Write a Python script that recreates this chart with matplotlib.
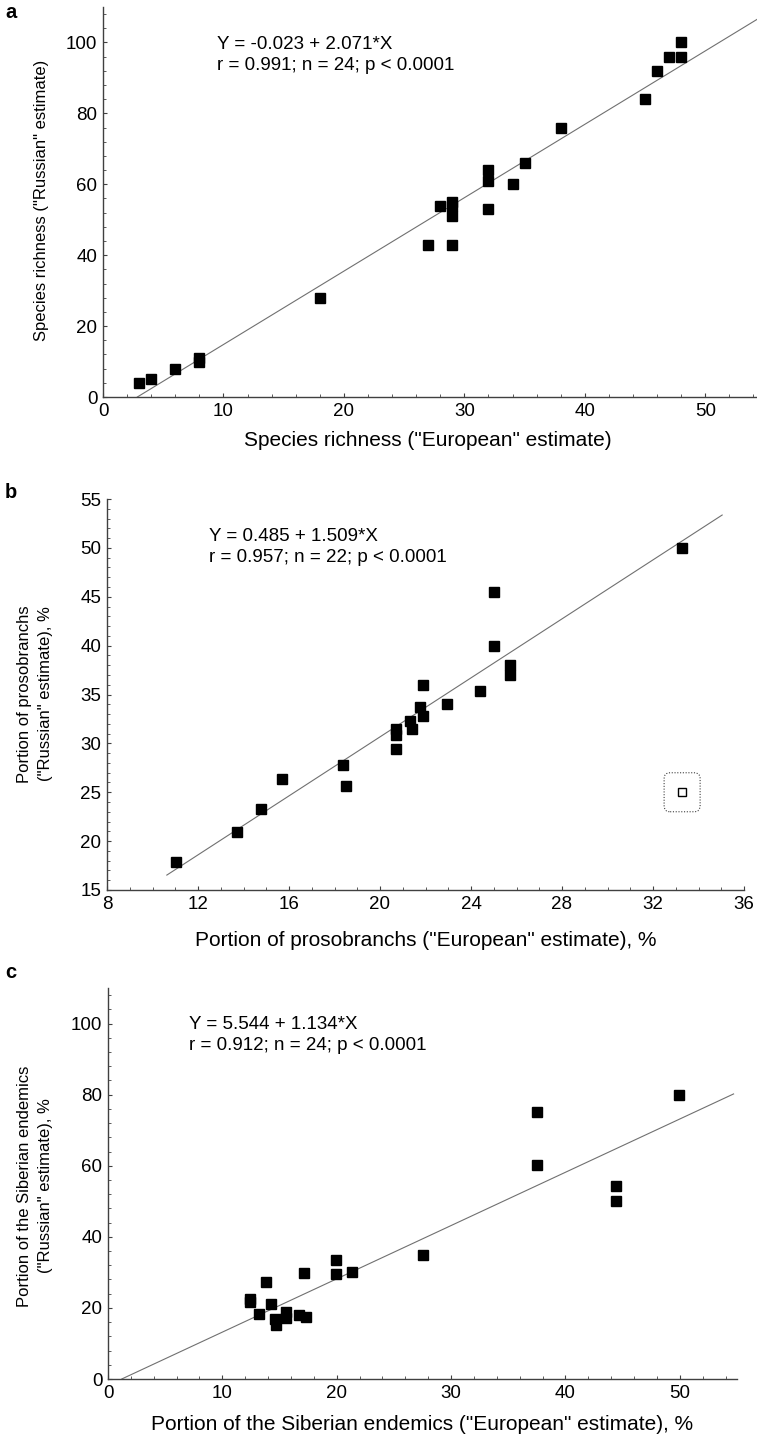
import numpy as np
import matplotlib
matplotlib.use("Agg")
import matplotlib.pyplot as plt
from matplotlib.ticker import MultipleLocator
from matplotlib.patches import FancyBboxPatch
from matplotlib.transforms import ScaledTranslation

plt.rcParams['font.family'] = ['Liberation Sans', 'DejaVu Sans']

# ── Panel a: species richness ────────────────────────────────────────────────
a_x = [3, 4, 6, 8, 8, 18, 27, 28, 29, 29, 29, 29, 32, 32, 32, 34, 35, 38, 45, 46, 47, 48, 48]
a_y = [4, 5, 8, 11, 10, 28, 43, 54, 55, 54, 51, 43, 64, 61, 53, 60, 66, 76, 84, 92, 96, 100, 96]
a_line = (-5.9, 2.07)          # drawn regression line (intercept, slope)
a_line_x = [2.85, 54.5]
a_text = "Y = -0.023 + 2.071*X\nr = 0.991; n = 24; p < 0.0001"

# ── Panel b: portion of prosobranchs ────────────────────────────────────────
b_x = [11.05, 13.73, 14.79, 15.69, 18.38, 18.49, 20.69, 20.69, 20.69, 21.3, 21.39,
       21.78, 21.89, 21.89, 22.96, 24.4, 25.0, 25.0, 25.7, 25.7, 33.28]
b_y = [17.9, 20.9, 23.3, 26.4, 27.8, 25.6, 31.5, 30.9, 29.4, 32.3, 31.5,
       33.7, 32.8, 36.0, 34.0, 35.4, 45.5, 40.0, 38.0, 37.0, 50.0]
b_out_x, b_out_y = 33.28, 25.0
b_line = (0.485, 1.509)
b_line_x = [10.63, 35.04]
b_text = "Y = 0.485 + 1.509*X\nr = 0.957; n = 22; p < 0.0001"

# ── Panel c: portion of the Siberian endemics ───────────────────────────────
c_x = [12.46, 12.46, 13.16, 13.79, 14.26, 14.56, 14.67, 15.55, 15.55, 16.69, 17.32,
       17.13, 19.96, 19.96, 21.36, 27.57, 37.5, 37.5, 44.4, 44.4, 49.96]
c_y = [21.7, 22.4, 18.4, 27.3, 21.2, 17.0, 15.1, 18.9, 17.3, 17.9, 17.5,
       29.7, 33.4, 29.6, 30.1, 34.9, 75.0, 60.1, 54.4, 50.0, 80.0]
c_line = (-1.8, 1.499)
c_line_x = [1.21, 54.7]
c_text = "Y = 5.544 + 1.134*X\nr = 0.912; n = 24; p < 0.0001"

W, H = 757, 1444
fig = plt.figure(figsize=(W / 100, H / 100), dpi=100)

TICK_FS = 13.5
TEXT_FS = 13.5
LABEL_FS = 15.0
YLABEL_FS = 12.0


def px_axes(l, t, r, b):
    return fig.add_axes([l / W, 1 - b / H, (r - l) / W, (b - t) / H])


def style(ax):
    for s in ("top", "right"):
        ax.spines[s].set_visible(False)
    for s in ("left", "bottom"):
        ax.spines[s].set_color("#404040")
        ax.spines[s].set_linewidth(1.0)
    ax.tick_params(which="major", direction="in", length=3, width=0.8,
                   color="#404040", labelsize=TICK_FS, pad=4)
    ax.tick_params(which="minor", direction="in", length=2, width=0.6,
                   color="#404040")


def panel(ax, xs, ys, line, line_x, txt, txt_xy):
    lx = np.array(line_x)
    ax.plot(lx, line[0] + line[1] * lx, color="#707070", lw=0.8, zorder=1)
    ax.plot(xs, ys, "s", color="black", ms=7.8, zorder=3)
    fig.text(txt_xy[0] / W, 1 - txt_xy[1] / H, txt, fontsize=TEXT_FS,
             ha="left", va="center", linespacing=1.25)


# a
ax_a = px_axes(103, 7, 757, 397)
style(ax_a)
panel(ax_a, a_x, a_y, a_line, a_line_x, a_text, (217, 55))
ax_a.set_xlim(0, 54.3)
ax_a.set_ylim(0, 110)
ax_a.xaxis.set_major_locator(MultipleLocator(10))
ax_a.xaxis.set_minor_locator(MultipleLocator(2))
ax_a.yaxis.set_major_locator(MultipleLocator(20))
ax_a.yaxis.set_minor_locator(MultipleLocator(4))

# b
ax_b = px_axes(107, 499, 744, 890)
style(ax_b)
panel(ax_b, b_x, b_y, b_line, b_line_x, b_text, (209, 547))
ax_b.plot([b_out_x], [b_out_y], "s", mfc="white", mec="black", mew=1.0, ms=6, zorder=3)
box_tr = fig.dpi_scale_trans + ScaledTranslation(b_out_x, b_out_y, ax_b.transData)
ax_b.add_patch(FancyBboxPatch((-0.18, -0.195), 0.36, 0.39,
                              boxstyle="round,pad=0,rounding_size=0.06",
                              transform=box_tr, fc="none", ec="#404040",
                              ls=(0, (1, 1.5)), lw=0.8, clip_on=False))
ax_b.set_xlim(8, 36)
ax_b.set_ylim(15, 55)
ax_b.xaxis.set_major_locator(MultipleLocator(4))
ax_b.xaxis.set_minor_locator(MultipleLocator(1))
ax_b.yaxis.set_major_locator(MultipleLocator(5))
ax_b.yaxis.set_minor_locator(MultipleLocator(1))

# c
ax_c = px_axes(108, 988, 737, 1379)
style(ax_c)
panel(ax_c, c_x, c_y, c_line, c_line_x, c_text, (189, 1035))
ax_c.set_xlim(0, 55)
ax_c.set_ylim(0, 110)
ax_c.xaxis.set_major_locator(MultipleLocator(10))
ax_c.xaxis.set_minor_locator(MultipleLocator(2))
ax_c.yaxis.set_major_locator(MultipleLocator(20))
ax_c.yaxis.set_minor_locator(MultipleLocator(4))

# axis labels
lab = dict(fontsize=LABEL_FS, ha="center", va="center")
ylab = dict(fontsize=YLABEL_FS, ha="center", va="center", rotation=90)
fig.text(428 / W, 1 - 441 / H, 'Species richness ("European" estimate)', **lab)
fig.text(42 / W, 1 - 200 / H, 'Species richness ("Russian" estimate)', **ylab)
fig.text(426 / W, 1 - 940 / H, 'Portion of prosobranchs ("European" estimate), %', **lab)
fig.text(35 / W, 1 - 694 / H, 'Portion of prosobranchs\n("Russian" estimate), %',
         linespacing=1.55, **ylab)
fig.text(422 / W, 1 - 1424 / H, 'Portion of the Siberian endemics ("European" estimate), %', **lab)
fig.text(35 / W, 1 - 1186 / H, 'Portion of the Siberian endemics\n("Russian" estimate), %',
         linespacing=1.55, **ylab)

# panel letters
for letter, y in (("a", 12), ("b", 492), ("c", 972)):
    fig.text(11 / W, 1 - y / H, letter, fontsize=14.5, fontweight="bold",
             ha="center", va="center")

fig.savefig("out.png", dpi=100)
